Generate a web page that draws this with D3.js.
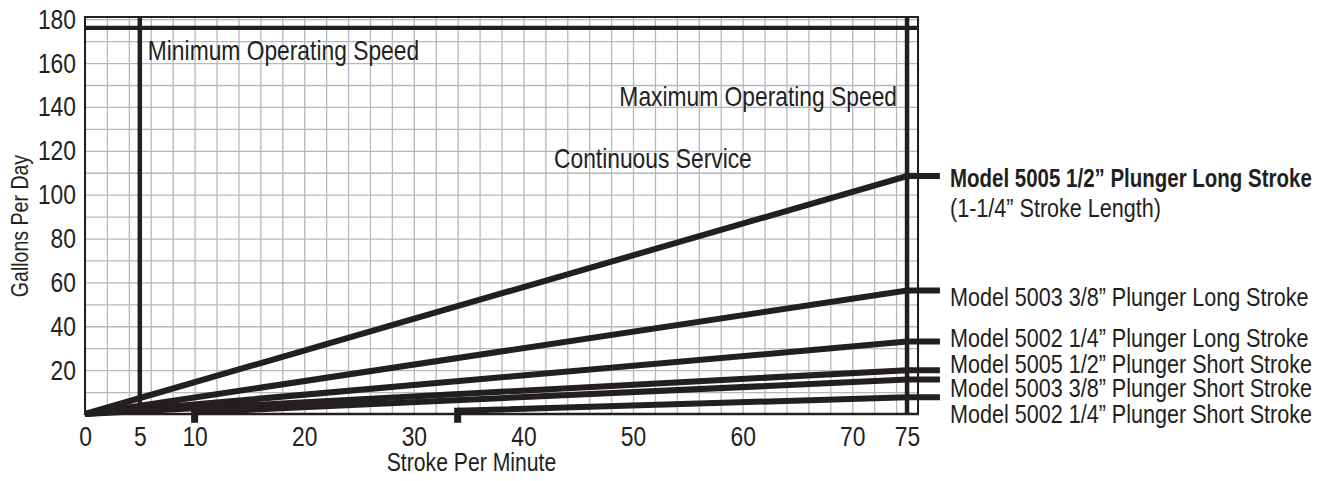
<!DOCTYPE html>
<html>
<head>
<meta charset="utf-8">
<script src="https://cdn.jsdelivr.net/npm/d3@7/dist/d3.min.js"></script>
<style>
  html, body { margin: 0; padding: 0; background: #ffffff; }
  svg text { font-family: "Liberation Sans", Arial, sans-serif; fill: #231f20; }
</style>
</head>
<body>
<svg id="chart" width="1336" height="481"></svg>
<script>
// ---- data ----
const xTickValues = [0, 5, 10, 20, 30, 40, 50, 60, 70, 75];
const yTickValues = [20, 40, 60, 80, 100, 120, 140, 160, 180];
const seriesNames = [
  "Model 5005 1/2\u201D Plunger Long Stroke",
  "Model 5003 3/8\u201D Plunger Long Stroke",
  "Model 5002 1/4\u201D Plunger Long Stroke",
  "Model 5005 1/2\u201D Plunger Short Stroke",
  "Model 5003 3/8\u201D Plunger Short Stroke",
  "Model 5002 1/4\u201D Plunger Short Stroke"
];
const seriesStartSPM = [0, 0, 0, 0, 10, 34];
const seriesStartGPD = [0, 0, 0, 0, 0.8, 1.5];
const seriesEndSPM   = [75, 75, 75, 75, 75, 75];
const seriesEndGPD   = [108.5, 56.3, 33, 20, 15.7, 7.6];
const seriesStubSPM  = 78;
const subtitleText = "(1-1/4\u201D Stroke Length)";
const minSpeedSPM = 5;
const maxSpeedSPM = 75;
const capacityGPD = 176;

// ---- layout ----
const svg = d3.select("#chart");
const ink = "#231f20";
const gridColor = "#b4b8c0";
const x = d3.scaleLinear().domain([0, 76]).range([85, 918]);
const y = d3.scaleLinear().domain([0, 181]).range([414, 17]);

// horizontally condense text (emulates a condensed typeface)
function condense(sel, k) {
  sel.each(function () {
    const t = d3.select(this);
    const tx = +t.attr("x") || 0, ty = +t.attr("y") || 0;
    const prev = t.attr("transform") || "";
    t.attr("x", null).attr("y", null)
     .attr("transform", `${prev} translate(${tx},${ty}) scale(${k},1)`);
  });
  return sel;
}
function fitWidth(sel, w) {
  sel.each(function () {
    const len = this.getComputedTextLength();
    condense(d3.select(this), w / len);
  });
  return sel;
}
const K = 0.815;

// grid
svg.append("g")
  .attr("transform", `translate(0,${y(0)})`)
  .call(d3.axisBottom(x).tickValues(d3.range(0, 77, 2)).tickSize(-(y(0) - y(181))).tickFormat(""))
  .call(g => g.select(".domain").remove())
  .call(g => g.selectAll("line").attr("stroke", gridColor).attr("stroke-width", 1.3));
svg.append("g")
  .attr("transform", `translate(${x(0)},0)`)
  .call(d3.axisLeft(y).tickValues(d3.range(10, 181, 10)).tickSize(-(x(76) - x(0))).tickFormat(""))
  .call(g => g.select(".domain").remove())
  .call(g => g.selectAll("line").attr("stroke", gridColor).attr("stroke-width", 1.3));

// frame
svg.append("rect")
  .attr("x", x(0)).attr("y", y(181))
  .attr("width", x(76) - x(0)).attr("height", y(0) - y(181))
  .attr("fill", "none").attr("stroke", ink).attr("stroke-width", 2);
svg.append("line")
  .attr("x1", x(0) - 1).attr("x2", x(76) + 1).attr("y1", y(0)).attr("y2", y(0))
  .attr("stroke", ink).attr("stroke-width", 2.5);

// operating speed lines
[minSpeedSPM, maxSpeedSPM].forEach(v => {
  svg.append("line")
    .attr("x1", x(v)).attr("x2", x(v)).attr("y1", y(181)).attr("y2", y(0))
    .attr("stroke", ink).attr("stroke-width", 4.5);
});
svg.append("line")
  .attr("x1", x(0)).attr("x2", x(76)).attr("y1", y(capacityGPD)).attr("y2", y(capacityGPD))
  .attr("stroke", ink).attr("stroke-width", 4.2);

// axes tick labels
const xAxis = svg.append("g")
  .attr("transform", `translate(0,${y(0)})`)
  .call(d3.axisBottom(x).tickValues(xTickValues).tickSize(0).tickPadding(12).tickFormat(d3.format("d")));
xAxis.select(".domain").remove();
xAxis.selectAll("text").attr("font-size", 28).attr("fill", ink)
  .style("font-family", '"Liberation Sans", Arial, sans-serif');
condense(xAxis.selectAll("text"), K);

const yAxis = svg.append("g")
  .attr("transform", `translate(${x(0)},0)`)
  .call(d3.axisLeft(y).tickValues(yTickValues).tickSize(0).tickPadding(9).tickFormat(d3.format("d")));
yAxis.select(".domain").remove();
yAxis.selectAll("text").attr("font-size", 28).attr("fill", ink)
  .style("font-family", '"Liberation Sans", Arial, sans-serif');
condense(yAxis.selectAll("text"), K);

// axis titles
condense(svg.append("text")
  .attr("x", (x(0) + x(76)) / 2 - 30).attr("y", 471)
  .attr("text-anchor", "middle").attr("font-size", 26)
  .text("Stroke Per Minute"), K);
condense(svg.append("text")
  .attr("transform", `translate(28,226) rotate(-90)`)
  .attr("text-anchor", "middle").attr("font-size", 24)
  .text("Gallons Per Day"), K);

// annotations
condense(svg.append("text").attr("x", x(minSpeedSPM) + 8).attr("y", 60)
  .attr("font-size", 28).text("Minimum Operating Speed"), K);
condense(svg.append("text").attr("x", x(maxSpeedSPM) - 10).attr("y", 106)
  .attr("text-anchor", "end").attr("font-size", 28).text("Maximum Operating Speed"), K);
condense(svg.append("text").attr("x", 554).attr("y", 168)
  .attr("font-size", 28).text("Continuous Service"), K);

// series lines
const lineGen = d3.line().x(d => x(d[0])).y(d => y(d[1]));
seriesNames.forEach((name, i) => {
  const pts = [
    [seriesStartSPM[i], seriesStartGPD[i]],
    [seriesEndSPM[i], seriesEndGPD[i]],
    [seriesStubSPM, seriesEndGPD[i]]
  ];
  svg.append("path")
    .attr("d", lineGen(pts))
    .attr("fill", "none").attr("stroke", ink).attr("stroke-width", 6)
    .attr("stroke-linejoin", "miter");
  if (seriesStartSPM[i] > 0) {
    svg.append("rect")
      .attr("x", x(seriesStartSPM[i]) - 3.5)
      .attr("y", y(seriesStartGPD[i]) - 3)
      .attr("width", 7)
      .attr("height", y(-4) - y(seriesStartGPD[i]) + 3)
      .attr("fill", ink);
  }
});

// legend labels
const labelBaselines = [187, 306, 347, 373, 397, 423];
seriesNames.forEach((name, i) => {
  const t = svg.append("text")
    .attr("x", 950).attr("y", labelBaselines[i])
    .attr("font-size", 26)
    .attr("font-weight", i === 0 ? "bold" : "normal")
    .text(name);
  if (i === 0) fitWidth(t, 362); else condense(t, 0.83);
});
condense(svg.append("text").attr("x", 950).attr("y", 217)
  .attr("font-size", 26).text(subtitleText), 0.83);
</script>
</body>
</html>
